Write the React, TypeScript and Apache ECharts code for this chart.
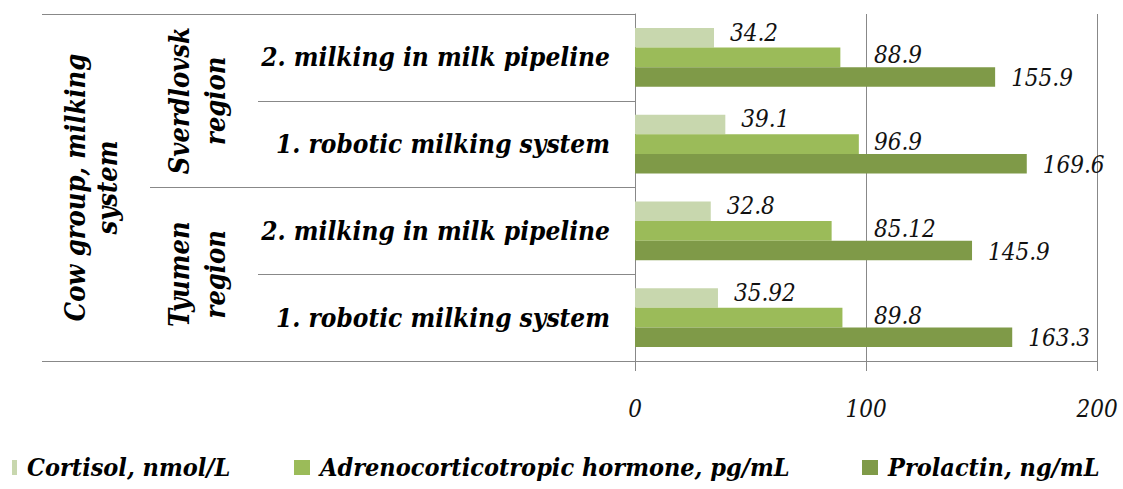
import React, { useEffect, useRef } from 'react';
import * as echarts from 'echarts';

const categories = [
  '1. robotic milking system',
  '2. milking in milk pipeline',
  '1. robotic milking system',
  '2. milking in milk pipeline',
];
const regions = ['Tyumen\nregion', 'Sverdlovsk\nregion'];
const groupTitle = ['Cow group, milking\nsystem'];
const seriesNames = ['Cortisol, nmol/L', 'Adrenocorticotropic hormone, pg/mL', 'Prolactin, ng/mL'];
const cortisol = [35.92, 32.8, 39.1, 34.2];
const acth = [89.8, 85.12, 96.9, 88.9];
const prolactin = [163.3, 145.9, 169.6, 155.9];
const xTicks = [0, 100, 200];

const colors = ['#C8D7AE', '#9BBB59', '#7F9A48'];
const gridColor = '#888888';
const font = 'DejaVu Serif Condensed';

export default function App() {
  const ref = useRef<HTMLDivElement>(null);
  useEffect(() => {
    if (!ref.current) return;
    const chart = echarts.init(ref.current, null, { renderer: 'svg' });
    const catLabel = {
      fontFamily: font,
      fontStyle: 'italic',
      fontWeight: 'bold',
      fontSize: 27,
      color: '#000',
    };
    const valLabel = {
      fontFamily: font,
      fontStyle: 'italic',
      fontSize: 24,
      color: '#111',
    };
    const legendBase = {
      orient: 'horizontal',
      top: 455,
      icon: 'rect',
      itemHeight: 15,
      padding: 0,
      textStyle: { ...catLabel, fontSize: 25, padding: [0, 0, 0, 5] },
      selectedMode: false,
    };
    chart.setOption({
      animation: false,
      backgroundColor: '#fff',
      grid: { left: 635, right: 26, top: 14, bottom: 128, containLabel: false, outerBoundsMode: 'none' },
      legend: [
        { ...legendBase, left: 12, itemWidth: 5, data: [seriesNames[0]] },
        { ...legendBase, left: 294, itemWidth: 16, data: [seriesNames[1]] },
        { ...legendBase, left: 862, itemWidth: 16, data: [seriesNames[2]] },
      ],
      xAxis: {
        type: 'value',
        min: xTicks[0],
        max: xTicks[xTicks.length - 1],
        interval: xTicks[1] - xTicks[0],
        axisLine: { show: true, lineStyle: { color: gridColor, width: 1 } },
        axisTick: { show: true, length: 10, lineStyle: { color: gridColor, width: 1 } },
        splitLine: { show: true, lineStyle: { color: gridColor, width: 1 } },
        axisLabel: { ...valLabel, margin: 36 },
      },
      yAxis: [
        {
          type: 'category',
          position: 'left',
          data: categories,
          axisLine: { show: true, lineStyle: { color: gridColor, width: 1 } },
          axisTick: { show: true, length: 377, lineStyle: { color: gridColor, width: 1 } },
          axisLabel: { ...catLabel, fontSize: 26, interval: 0, margin: 25 },
        },
        {
          type: 'category',
          position: 'left',
          offset: 0,
          data: regions,
          axisLine: { show: false },
          axisTick: { show: true, interval: 0, length: 485, lineStyle: { color: gridColor, width: 1 } },
          axisLabel: {
            ...catLabel,
            interval: 0,
            hideOverlap: false,
            rotate: 90,
            align: 'center',
            verticalAlign: 'middle',
            lineHeight: 36,
            margin: 438,
          },
        },
        {
          type: 'category',
          position: 'left',
          offset: 0,
          data: groupTitle,
          axisLine: { show: false },
          axisTick: { show: true, length: 593, lineStyle: { color: gridColor, width: 1 } },
          axisLabel: {
            ...catLabel,
            interval: 0,
            rotate: 90,
            align: 'center',
            verticalAlign: 'middle',
            lineHeight: 32,
            margin: 544,
          },
        },
      ],
      series: [
        {
          name: seriesNames[0],
          type: 'bar',
          yAxisIndex: 0,
          data: cortisol,
          barGap: '0%',
          barCategoryGap: '32%',
          itemStyle: { color: colors[0] },
          label: { show: true, position: 'right', distance: 16, offset: [0, -5], ...valLabel },
        },
        {
          name: seriesNames[1],
          type: 'bar',
          yAxisIndex: 0,
          data: acth,
          barGap: '0%',
          barCategoryGap: '32%',
          itemStyle: { color: colors[1] },
          label: {
            show: true,
            position: [239, '50%'],
            align: 'left',
            verticalAlign: 'middle',
            offset: [0, -2],
            ...valLabel,
          },
        },
        {
          name: seriesNames[2],
          type: 'bar',
          yAxisIndex: 0,
          data: prolactin,
          barGap: '0%',
          barCategoryGap: '32%',
          itemStyle: { color: colors[2] },
          label: { show: true, position: 'right', distance: 16, offset: [0, 1], ...valLabel },
        },
      ],
    });
    return () => chart.dispose();
  }, []);
  return (
    <div
      ref={ref}
      style={{ position: 'fixed', left: 0, top: 0, width: 1123, height: 489 }}
    />
  );
}
